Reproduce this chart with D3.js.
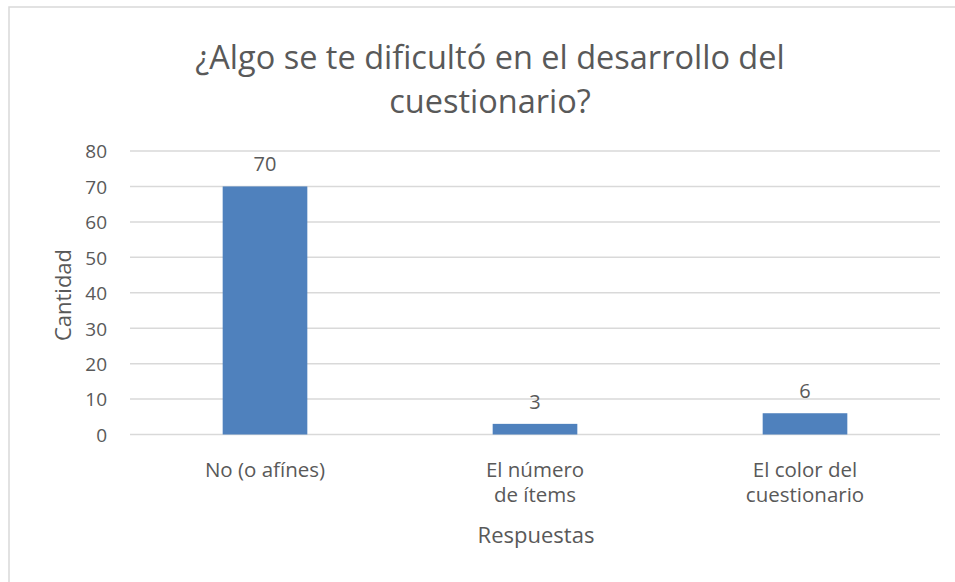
<!DOCTYPE html>
<html>
<head>
<meta charset="utf-8">
<script src="https://cdn.jsdelivr.net/npm/d3@7"></script>
<style>
  body { margin: 0; background: #fff; }
  text { font-family: "Open Sans", sans-serif; fill: #595959; }
</style>
</head>
<body>
<script>
var categories = ["No (o afínes)", "El número de ítems", "El color del cuestionario"];
var values = [70, 3, 6];
var yTicks = [0, 10, 20, 30, 40, 50, 60, 70, 80];
var titleLines = ["¿Algo se te dificultó en el desarrollo del", "cuestionario?"];
var xTitle = "Respuestas";
var yTitle = "Cantidad";

function wrap(text, width) {
    text.each(function () {
        var text = d3.select(this),
            words = text.text().split(/\s+/).reverse(),
            word,
            line = [],
            lineNumber = 0,
            lineHeight = 1.22, // ems
            x = text.attr("x"),
            y = text.attr("y"),
            tspan = text.text(null)
                        .append("tspan")
                        .attr("x", x)
                        .attr("y", y)
                        .attr("dy", "0em");
        while (word = words.pop()) {
            line.push(word);
            tspan.text(line.join(" "));
            if (tspan.node().getComputedTextLength() > width) {
                line.pop();
                tspan.text(line.join(" "));
                line = [word];
                tspan = text.append("tspan")
                            .attr("x", x)
                            .attr("y", y)
                            .attr("dy", ++lineNumber * lineHeight + "em")
                            .text(word);
            }
        }
    });
}

var w = 955;
var h = 582;

var svg = d3.select("body")
            .append("svg")
            .attr("width", w)
            .attr("height", h);

// chart frame (only left and top edges fall inside the picture)
svg.append("rect")
   .attr("x", 9)
   .attr("y", 7)
   .attr("width", 1000)
   .attr("height", 1000)
   .attr("fill", "none")
   .attr("stroke", "#d9d9d9")
   .attr("stroke-width", 1.5);

var gap = 0.6865; // Excel gap width ~219%
var x = d3.scaleBand()
          .domain(categories)
          .range([130, 940])
          .paddingInner(gap)
          .paddingOuter(gap / 2);

var y = d3.scaleLinear()
          .domain([0, 80])
          .range([434.5, 151]);

// gridlines
svg.append("g")
   .selectAll("line")
   .data(yTicks)
   .enter()
   .append("line")
   .attr("x1", 130)
   .attr("x2", 940)
   .attr("y1", function(d){ return y(d); })
   .attr("y2", function(d){ return y(d); })
   .attr("stroke", "#d9d9d9")
   .attr("stroke-width", 1.5);

// y axis labels
var yAxis = d3.axisLeft(y)
              .tickValues(yTicks)
              .tickSize(0)
              .tickPadding(0);

var yG = svg.append("g")
            .attr("transform", "translate(107,0)")
            .call(yAxis);
yG.select(".domain").remove();
yG.selectAll("text")
  .attr("dy", "0.36em")
  .style("font-size", "19px")
  .style("fill", "#595959")
  .style("font-family", "'Open Sans', sans-serif");

// bars
svg.selectAll("rect.bar")
   .data(values)
   .enter()
   .append("rect")
   .attr("class", "bar")
   .attr("x", function(d, i){ return x(categories[i]); })
   .attr("y", function(d){ return y(d); })
   .attr("width", x.bandwidth())
   .attr("height", function(d){ return y(0) - y(d); })
   .attr("fill", "#4f81bd");

// value labels
svg.selectAll("text.val")
   .data(values)
   .enter()
   .append("text")
   .attr("class", "val")
   .attr("x", function(d, i){ return x(categories[i]) + x.bandwidth() / 2; })
   .attr("y", function(d){ return y(d) - 15; })
   .attr("text-anchor", "middle")
   .style("font-size", "20px")
   .text(function(d){ return d; });

// category labels
svg.selectAll("text.cat")
   .data(categories)
   .enter()
   .append("text")
   .attr("class", "cat")
   .attr("x", function(d){ return x(d) + x.bandwidth() / 2; })
   .attr("y", 477)
   .attr("text-anchor", "middle")
   .style("font-size", "20.5px")
   .text(function(d){ return d; })
   .call(wrap, 125);

// axis titles
svg.append("text")
   .attr("x", 536)
   .attr("y", 543)
   .attr("text-anchor", "middle")
   .style("font-size", "22px")
   .text(xTitle);

svg.append("text")
   .attr("transform", "translate(71,295) rotate(-90)")
   .attr("text-anchor", "middle")
   .style("font-size", "22px")
   .text(yTitle);

// title
svg.append("text")
   .attr("text-anchor", "middle")
   .style("font-size", "32.5px")
   .selectAll("tspan")
   .data(titleLines)
   .enter()
   .append("tspan")
   .attr("x", 490)
   .attr("y", function(d, i){ return 69 + i * 43.5; })
   .text(function(d){ return d; });
</script>
</body>
</html>
